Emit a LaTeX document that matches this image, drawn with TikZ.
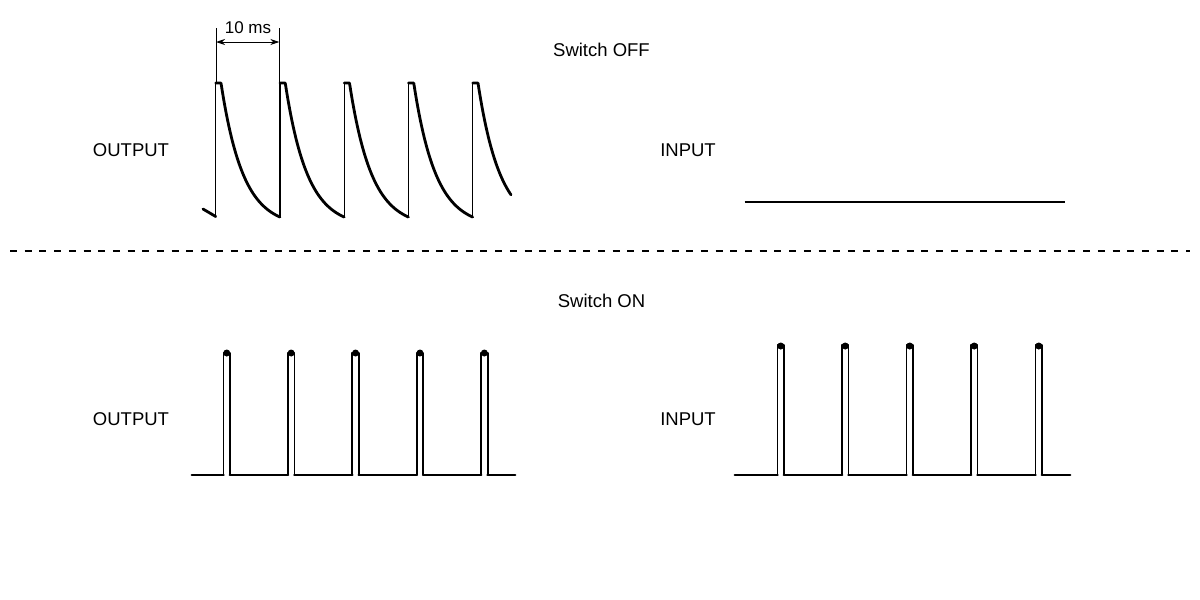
\documentclass[tikz,border=0pt]{standalone}
\usepackage{fontspec}
\setmainfont{Liberation Sans}
\usetikzlibrary{arrows.meta}
\begin{document}
\begin{tikzpicture}[x=1pt,y=-1pt,
  thick wave/.style={line width=2.8pt, line join=round, line cap=round},
  thin wave/.style={line width=1.4pt, line join=round, line cap=round},
  lbl/.style={font=\fontsize{18.5}{22}\selectfont, anchor=base, inner sep=0pt},
  dimline/.style={line width=1pt},
  sep/.style={line width=1.6pt, dash pattern=on 7pt off 7.7pt}]
\useasboundingbox (0,0) rectangle (1200,600);

% labels
\node[lbl] (offT) at (601.5,56.5) {Switch OFF};
\node[lbl] (onT) at (601.5,307) {Switch ON};
\node[lbl] (out1) at (131,156) {OUTPUT};
\node[lbl] (in1) at (688,156) {INPUT};
\node[lbl] (out2) at (131,425) {OUTPUT};
\node[lbl] (in2) at (688,425) {INPUT};

% separator
\coordinate (sepL) at (10,251);
\coordinate (sepR) at (1190,251);
\draw[sep] (sepL) -- (sepR);

% top output: sawtooth decay
\foreach \i in {0,...,4}{
  \draw[thin wave] ({215.7+64.25*\i},217) -- ({215.7+64.25*\i},83);
}
\draw[thick wave] (203,209) -- (215.7,216.5);
\foreach \i in {0,...,3}{
  \draw[thick wave] ({215.7+64.25*\i},83) -- ({221+64.25*\i},83)
    plot[domain=0:58.9, samples=40, variable=\t] ({221+64.25*\i+\t},{83+143.9*(1-exp(-\t/22))});
}
\draw[thick wave] ({215.7+64.25*4},83) -- ({221+64.25*4},83)
    plot[domain=0:33, samples=30, variable=\t] ({221+64.25*4+\t},{83+143.9*(1-exp(-\t/22))});

% 10 ms dimension
\coordinate (d1t) at (216,28);
\coordinate (d1b) at (216,83);
\coordinate (d2t) at (279.3,28);
\coordinate (d2b) at (279.3,83);
\draw[dimline] (d1t) -- (d1b);
\draw[dimline] (d2t) -- (d2b);
\coordinate (a1) at (216,42);
\coordinate (a2) at (279.3,42);
\draw[dimline, {Stealth[length=9pt,width=6pt]}-{Stealth[length=9pt,width=6pt]}] (a1) -- (a2);
\node[font=\fontsize{17}{20}\selectfont, anchor=base, inner sep=0pt] (ten) at (248,33.3) {10 ms};

% top input: flat line
\coordinate (inL) at (744.5,201.5);
\coordinate (inR) at (1065,201.5);
\draw[line width=2pt] (inL) -- (inR);

% bottom output pulses
\draw[thin wave, line width=1.8pt] (192,475)
  \foreach \i in {0,...,4}{ -- ({223.5+64.4*\i},475) -- ++(0,-122) -- ++(6.5,0) -- ++(0,122)} -- (515,475);
\draw[thick wave] (192,475) -- (223.5,475);
\foreach \i in {0,...,3}{
  \draw[thick wave] ({230+64.4*\i},475) -- ({223.5+64.4*(\i+1)},475);
}
\draw[thick wave] ({230+64.4*4},475) -- (515,475);
\foreach \i in {0,...,4}{
  \fill ({226.75+64.4*\i},353) circle (3.5pt);
}

% bottom input pulses
\draw[thin wave, line width=1.8pt] (735,475)
  \foreach \i in {0,...,4}{ -- ({777.5+64.5*\i},475) -- ++(0,-130) -- ++(6.5,0) -- ++(0,130)} -- (1070,475);
\draw[thick wave] (735,475) -- (777.5,475);
\foreach \i in {0,...,3}{
  \draw[thick wave] ({784+64.5*\i},475) -- ({777.5+64.5*(\i+1)},475);
}
\draw[thick wave] ({784+64.5*4},475) -- (1070,475);
\foreach \i in {0,...,4}{
  \fill ({780.75+64.5*\i},346) circle (3.5pt);
}
\end{tikzpicture}
\end{document}
